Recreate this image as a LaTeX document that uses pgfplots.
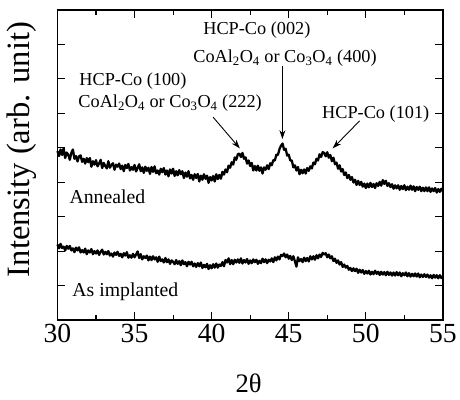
\documentclass[border=0pt]{standalone}
\usepackage{fontspec}
\setmainfont{Liberation Serif}
\usepackage{pgfplots}
\usepackage{pgfplotstable}
\pgfplotsset{compat=1.18}
\usetikzlibrary{arrows.meta,calc}

% x = 2theta, a = annealed, b = as implanted
\pgfplotstableread{
x a b
30.0 4.90 2.19
30.1 4.76 2.08
30.2 4.95 2.21
30.3 4.79 2.09
30.4 4.99 2.13
30.5 4.70 2.02
30.6 4.86 2.15
30.7 4.80 2.07
30.8 4.65 2.15
30.9 4.85 2.02
31.0 4.95 2.08
31.1 4.68 1.97
31.2 4.76 2.10
31.3 4.60 2.02
31.4 4.75 2.11
31.5 4.78 1.96
31.6 4.59 2.03
31.7 4.68 1.96
31.8 4.54 2.07
31.9 4.70 1.91
32.0 4.58 2.02
32.1 4.70 1.96
32.2 4.45 2.06
32.3 4.61 1.91
32.4 4.51 2.00
32.5 4.64 1.93
32.6 4.46 2.02
32.7 4.54 1.89
32.8 4.65 1.98
32.9 4.41 2.04
33.0 4.56 1.90
33.1 4.47 1.98
33.2 4.40 1.91
33.3 4.61 2.00
33.4 4.42 1.87
33.5 4.50 1.93
33.6 4.55 1.84
33.7 4.36 1.96
33.8 4.51 1.89
33.9 4.45 1.98
34.0 4.54 1.86
34.1 4.38 1.92
34.2 4.48 1.82
34.3 4.32 1.94
34.4 4.50 1.87
34.5 4.41 1.97
34.6 4.53 1.81
34.7 4.34 1.88
34.8 4.44 1.81
34.9 4.36 1.92
35.0 4.50 1.82
35.1 4.31 1.90
35.2 4.41 1.99
35.3 4.52 1.80
35.4 4.32 1.91
35.5 4.43 1.76
35.6 4.27 1.85
35.7 4.45 1.80
35.8 4.33 1.87
35.9 4.42 1.73
36.0 4.24 1.84
36.1 4.44 1.74
36.2 4.30 1.85
36.3 4.46 1.76
36.4 4.26 1.82
36.5 4.34 1.69
36.6 4.22 1.84
36.7 4.39 1.71
36.8 4.29 1.76
36.9 4.41 1.67
37.0 4.22 1.80
37.1 4.34 1.68
37.2 4.17 1.76
37.3 4.37 1.63
37.4 4.25 1.73
37.5 4.39 1.69
37.6 4.18 1.62
37.7 4.32 1.74
37.8 4.20 1.63
37.9 4.35 1.71
38.0 4.23 1.59
38.1 4.32 1.73
38.2 4.12 1.62
38.3 4.28 1.68
38.4 4.16 1.56
38.5 4.32 1.69
38.6 4.11 1.61
38.7 4.21 1.69
38.8 4.07 1.56
38.9 4.23 1.64
39.0 4.12 1.54
39.1 4.24 1.65
39.2 4.02 1.56
39.3 4.19 1.67
39.4 4.07 1.51
39.5 4.23 1.60
39.6 4.10 1.53
39.7 4.19 1.63
39.8 3.98 1.48
39.9 4.15 1.59
40.0 4.05 1.50
40.1 4.18 1.62
40.2 4.02 1.52
40.3 4.23 1.64
40.4 4.09 1.52
40.5 4.21 1.61
40.6 4.10 1.57
40.7 4.30 1.68
40.8 4.22 1.56
40.9 4.37 1.74
41.0 4.29 1.67
41.1 4.48 1.79
41.2 4.42 1.62
41.3 4.58 1.74
41.4 4.51 1.62
41.5 4.72 1.75
41.6 4.65 1.67
41.7 4.81 1.76
41.8 4.83 1.66
41.9 4.73 1.79
42.0 4.85 1.64
42.1 4.68 1.74
42.2 4.72 1.67
42.3 4.54 1.77
42.4 4.63 1.63
42.5 4.47 1.73
42.6 4.56 1.65
42.7 4.34 1.76
42.8 4.47 1.68
42.9 4.34 1.75
43.0 4.48 1.63
43.1 4.33 1.72
43.2 4.43 1.65
43.3 4.25 1.78
43.4 4.43 1.68
43.5 4.36 1.76
43.6 4.49 1.65
43.7 4.38 1.75
43.8 4.55 1.70
43.9 4.49 1.79
44.0 4.64 1.68
44.1 4.63 1.82
44.2 4.80 1.73
44.3 4.79 1.84
44.4 4.96 1.76
44.5 5.06 1.89
44.6 5.12 1.86
44.7 4.94 1.93
44.8 4.97 1.82
44.9 4.77 1.90
45.0 4.80 1.78
45.1 4.63 1.86
45.2 4.63 1.74
45.3 4.43 1.85
45.4 4.49 1.71
45.5 4.34 1.55
45.6 4.44 1.82
45.7 4.23 1.71
45.8 4.36 1.77
45.9 4.26 1.68
46.0 4.37 1.81
46.1 4.25 1.71
46.2 4.41 1.80
46.3 4.33 1.70
46.4 4.46 1.85
46.5 4.40 1.76
46.6 4.57 1.85
46.7 4.52 1.75
46.8 4.68 1.88
46.9 4.63 1.79
47.0 4.81 1.90
47.1 4.73 1.83
47.2 4.87 1.95
47.3 4.85 1.90
47.4 4.75 1.94
47.5 4.87 1.82
47.6 4.71 1.90
47.7 4.79 1.79
47.8 4.61 1.85
47.9 4.71 1.71
48.0 4.52 1.78
48.1 4.57 1.66
48.2 4.39 1.73
48.3 4.49 1.61
48.4 4.31 1.68
48.5 4.38 1.54
48.6 4.21 1.61
48.7 4.28 1.52
48.8 4.12 1.57
48.9 4.21 1.46
49.0 4.07 1.51
49.1 4.15 1.42
49.2 3.99 1.50
49.3 4.07 1.42
49.4 3.92 1.49
49.5 4.04 1.37
49.6 3.92 1.46
49.7 4.01 1.38
49.8 3.87 1.45
49.9 3.96 1.34
50.0 3.83 1.42
50.1 3.96 1.35
50.2 3.85 1.43
50.3 3.98 1.32
50.4 3.86 1.40
50.5 3.95 1.33
50.6 3.83 1.43
50.7 3.97 1.34
50.8 3.89 1.40
50.9 4.01 1.31
51.0 3.90 1.40
51.1 4.06 1.32
51.2 3.95 1.39
51.3 4.04 1.30
51.4 3.89 1.40
51.5 3.97 1.31
51.6 3.86 1.38
51.7 3.94 1.29
51.8 3.81 1.38
51.9 3.91 1.29
52.0 3.82 1.39
52.1 3.91 1.30
52.2 3.78 1.38
52.3 3.89 1.27
52.4 3.80 1.36
52.5 3.91 1.30
52.6 3.77 1.38
52.7 3.87 1.27
52.8 3.78 1.36
52.9 3.90 1.26
53.0 3.78 1.34
53.1 3.88 1.27
53.2 3.74 1.35
53.3 3.86 1.26
53.4 3.78 1.35
53.5 3.87 1.24
53.6 3.74 1.32
53.7 3.84 1.25
53.8 3.74 1.33
53.9 3.85 1.25
54.0 3.74 1.32
54.1 3.85 1.23
54.2 3.72 1.30
54.3 3.82 1.21
54.4 3.74 1.31
54.5 3.83 1.23
54.6 3.70 1.30
54.7 3.80 1.21
54.8 3.72 1.30
54.9 3.81 1.22
55.0 3.74 1.27
}\xrd

\newcommand{\annfont}{\fontsize{18.5}{20}\selectfont}

\begin{document}
\begin{tikzpicture}
\begin{axis}[
    name=ax,
    scale only axis,
    width=389bp, height=313bp,
    xmin=30, xmax=55, ymin=0, ymax=9,
    xtick={30,35,...,55},
    minor x tick num=1,
    ytick={0,1,...,9},
    yticklabels={},
    tick align=inside,
    xtick pos=both, ytick pos=both,
    major tick length=8bp, minor tick length=5bp,
    every tick/.style={black, line width=1.1bp},
    axis line style={line width=1.8bp},
    /pgf/number format/assume math mode=true,
    xticklabel style={font=\fontsize{28}{30}\selectfont, yshift=-1bp},
    ylabel={Intensity (arb. unit)},
    ylabel style={font=\fontsize{33}{36}\selectfont, at={(axis description cs:-0.093,0.55)}, anchor=center},
    xlabel={2θ},
    xlabel style={font=\fontsize{27}{29}\selectfont, at={(axis description cs:0.496,-0.203)}, anchor=center},
    clip=false,
]
\addplot[black, line width=2.3bp, line join=round] table[x=x, y=a] {\xrd};
\addplot[black, line width=2.3bp, line join=round] table[x=x, y=b] {\xrd};

\begin{scope}[every node/.style={inner sep=0pt, anchor=west}]
\node[font=\annfont] at (axis cs:39.45,8.40) {HCP-Co (002)};
\node[font=\annfont] at (axis cs:38.80,7.60) {CoAl\textsubscript{2}O\textsubscript{4} or Co\textsubscript{3}O\textsubscript{4} (400)};
\node[font=\annfont] at (axis cs:31.41,6.93) {HCP-Co (100)};
\node[font=\annfont] at (axis cs:31.35,6.29) {CoAl\textsubscript{2}O\textsubscript{4} or Co\textsubscript{3}O\textsubscript{4} (222)};
\node[font=\annfont] at (axis cs:47.16,5.98) {HCP-Co (101)};
\node[font=\fontsize{20}{22}\selectfont] at (axis cs:30.77,3.59) {Annealed};
\node[font=\fontsize{20}{22}\selectfont] at (axis cs:30.96,0.81) {As implanted};
\end{scope}

\draw[-{Stealth[length=9bp,width=6bp]}, line width=0.9bp] (axis cs:40.09,5.89) -- (axis cs:41.83,4.98);
\draw[-{Stealth[length=9bp,width=6bp]}, line width=0.9bp] (axis cs:44.59,7.36) -- (axis cs:44.59,5.25);
\draw[-{Stealth[length=9bp,width=6bp]}, line width=0.9bp] (axis cs:49.60,5.78) -- (axis cs:47.85,4.98);
\end{axis}
\path[use as bounding box] ($(ax.south west)+(-58bp,-80bp)$) rectangle ($(ax.north east)+(13bp,10bp)$);
\end{tikzpicture}
\end{document}
